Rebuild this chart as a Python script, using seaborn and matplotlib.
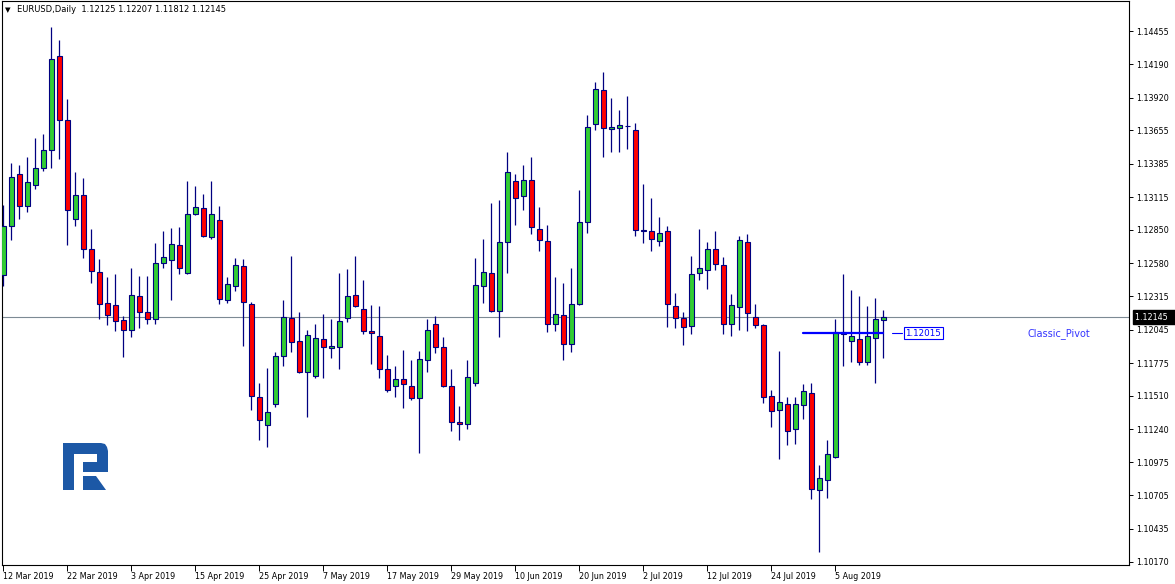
import numpy as np
import pandas as pd
import matplotlib
matplotlib.use("Agg")
import matplotlib.pyplot as plt
import matplotlib.transforms as mtrans
from matplotlib.patches import Polygon
import seaborn as sns

# ---------------- data ----------------
symbol_title = "EURUSD,Daily  1.12125 1.12207 1.11812 1.12145"
date_labels = ["12 Mar 2019", "22 Mar 2019", "3 Apr 2019", "15 Apr 2019", "25 Apr 2019",
               "7 May 2019", "17 May 2019", "29 May 2019", "10 Jun 2019", "20 Jun 2019",
               "2 Jul 2019", "12 Jul 2019", "24 Jul 2019", "5 Aug 2019"]
price_ticks = [1.14455, 1.14190, 1.13920, 1.13655, 1.13385, 1.13115, 1.12850, 1.12580,
               1.12315, 1.12045, 1.11775, 1.11510, 1.11240, 1.10975, 1.10705, 1.10435, 1.10170]

opens = [1.12485, 1.12880, 1.13302, 1.13047, 1.13214, 1.13351, 1.13500, 1.14253, 1.13737, 1.12935,
         1.13132, 1.12698, 1.12513, 1.12257, 1.12242, 1.12121, 1.12039, 1.12315, 1.12185, 1.12130,
         1.12586, 1.12607, 1.12725, 1.12500, 1.12977, 1.13026, 1.12795, 1.12929, 1.12285, 1.12397,
         1.12561, 1.12251, 1.11501, 1.11273, 1.11443, 1.11835, 1.12136, 1.11951, 1.11704, 1.11671,
         1.11966, 1.11893, 1.11902, 1.12136, 1.12324, 1.12209, 1.12030, 1.11990, 1.11729, 1.11592,
         1.11647, 1.11589, 1.11492, 1.11802, 1.12087, 1.11902, 1.11589, 1.11300, 1.11279, 1.11616,
         1.12397, 1.12504, 1.12194, 1.12750, 1.13242, 1.13123, 1.13254, 1.12856, 1.12759, 1.12087,
         1.12160, 1.11932, 1.12248, 1.12914, 1.13704, 1.13980, 1.13664, 1.13670, 1.13694, 1.13658,
         1.12853, 1.12841, 1.12759, 1.12838, 1.12233, 1.12139, 1.12072, 1.12504, 1.12528, 1.12698,
         1.12567, 1.12087, 1.12227, 1.12750, 1.12145, 1.12081, 1.11507, 1.11395, 1.11443, 1.11240,
         1.11437, 1.11534, 1.10745, 1.10833, 1.11012, 1.12024, 1.11951, 1.11966, 1.11786, 1.11975,
         1.12125]
highs = [1.13053, 1.13388, 1.13375, 1.13442, 1.13591, 1.13625, 1.14490, 1.14384, 1.13910, 1.13315,
         1.13266, 1.12856, 1.12613, 1.12470, 1.12494, 1.12157, 1.12546, 1.12476, 1.12476, 1.12744,
         1.12841, 1.12865, 1.12874, 1.13242, 1.13208, 1.13144, 1.13242, 1.13044, 1.12473, 1.12622,
         1.12613, 1.12267, 1.11616, 1.11732, 1.11862, 1.12288, 1.12643, 1.12188, 1.12042, 1.12090,
         1.12172, 1.12133, 1.12506, 1.12531, 1.12637, 1.12443, 1.12245, 1.12236, 1.11838, 1.11747,
         1.11878, 1.11796, 1.11872, 1.12127, 1.12151, 1.11984, 1.11723, 1.11431, 1.11796, 1.12625,
         1.12777, 1.13069, 1.13093, 1.13482, 1.13306, 1.13378, 1.13436, 1.13038, 1.12889, 1.12467,
         1.12425, 1.12540, 1.13172, 1.13776, 1.14047, 1.14123, 1.13919, 1.13819, 1.13934, 1.13713,
         1.13221, 1.13111, 1.12956, 1.12883, 1.12339, 1.12188, 1.12637, 1.12856, 1.12750, 1.12841,
         1.12628, 1.12336, 1.12798, 1.12816, 1.12254, 1.12093, 1.11553, 1.11872, 1.11504, 1.11504,
         1.11604, 1.11616, 1.10948, 1.11155, 1.12127, 1.12497, 1.12364, 1.12318, 1.12233, 1.12303,
         1.12207]
lows = [1.12400, 1.12768, 1.12941, 1.12996, 1.13184, 1.13330, 1.13348, 1.13421, 1.12728, 1.12886,
        1.12622, 1.12418, 1.12127, 1.12084, 1.12030, 1.11823, 1.11987, 1.12054, 1.12090, 1.12090,
        1.12540, 1.12288, 1.12491, 1.12495, 1.12970, 1.12795, 1.12777, 1.12254, 1.12263, 1.12355,
        1.11914, 1.11392, 1.11155, 1.11094, 1.11422, 1.11750, 1.11866, 1.11698, 1.11337, 1.11653,
        1.11653, 1.11817, 1.11726, 1.12109, 1.12224, 1.12008, 1.11771, 1.11656, 1.11544, 1.11498,
        1.11410, 1.11477, 1.11048, 1.11704, 1.11856, 1.11580, 1.11225, 1.11149, 1.11240, 1.11589,
        1.12257, 1.12190, 1.11987, 1.12506, 1.12892, 1.13008, 1.12819, 1.12680, 1.12024, 1.12033,
        1.11799, 1.11866, 1.12242, 1.12829, 1.13661, 1.13442, 1.13476, 1.13476, 1.13506, 1.12804,
        1.12747, 1.12680, 1.12722, 1.12069, 1.12060, 1.11923, 1.12008, 1.12446, 1.12373, 1.12525,
        1.12011, 1.11990, 1.12045, 1.12030, 1.12054, 1.11452, 1.11261, 1.11003, 1.11109, 1.11118,
        1.11319, 1.10678, 1.10252, 1.10687, 1.11010, 1.11753, 1.11786, 1.11762, 1.11756, 1.11613,
        1.11812]
closes = [1.12880, 1.13275, 1.13047, 1.13239, 1.13351, 1.13500, 1.14232, 1.13737, 1.13008, 1.13132,
          1.12698, 1.12522, 1.12251, 1.12160, 1.12112, 1.12039, 1.12324, 1.12191, 1.12130, 1.12586,
          1.12628, 1.12740, 1.12540, 1.12977, 1.13035, 1.12804, 1.12983, 1.12294, 1.12412, 1.12567,
          1.12267, 1.11510, 1.11313, 1.11376, 1.11835, 1.12145, 1.11944, 1.11704, 1.12005, 1.11975,
          1.11908, 1.11911, 1.12115, 1.12315, 1.12236, 1.12036, 1.12014, 1.11723, 1.11559, 1.11647,
          1.11607, 1.11492, 1.11811, 1.12042, 1.11902, 1.11589, 1.11297, 1.11282, 1.11662, 1.12406,
          1.12513, 1.12194, 1.12750, 1.13315, 1.13108, 1.13254, 1.12874, 1.12765, 1.12087, 1.12169,
          1.11932, 1.12251, 1.12914, 1.13685, 1.13992, 1.13670, 1.13682, 1.13697, 1.13688, 1.12847,
          1.12844, 1.12774, 1.12829, 1.12251, 1.12139, 1.12063, 1.12494, 1.12546, 1.12698, 1.12576,
          1.12087, 1.12242, 1.12765, 1.12178, 1.12081, 1.11501, 1.11386, 1.11458, 1.11225, 1.11443,
          1.11550, 1.10754, 1.10842, 1.11042, 1.12024, 1.12008, 1.11990, 1.11786, 1.11990, 1.12130,
          1.12145]

current_price = 1.12145
pivot_value = 1.12015
pivot_start, pivot_end = 100, 110
pivot_name = "Classic_Pivot"

# ---------------- styling ----------------
W, H = 1175, 584
NAVY = "#000080"
BULL = "#32CD32"
BEAR = "#FF0000"
FS = 5.8

sns.set_theme(style="white")
plt.rcParams['font.family'] = ['DejaVu Sans']

df = pd.DataFrame({"idx": np.arange(len(opens)), "open": opens, "high": highs,
                   "low": lows, "close": closes})
df["bull"] = df["close"] >= df["open"]
df["body_lo"] = df[["open", "close"]].min(axis=1)
df["body_h"] = (df["close"] - df["open"]).abs().clip(lower=0.00002)
colors = np.where(df["bull"], BULL, BEAR)

fig = plt.figure(figsize=(W / 100, H / 100), dpi=100)
fig.patch.set_facecolor("white")
ax = fig.add_axes([2 / W, (H - 565) / H, 1127 / W, 564 / H])
ax.set_facecolor("white")

# current price line
ax.axhline(current_price, color="#7d8a94", lw=0.8, zorder=1)

# wicks and bodies
ax.vlines(df["idx"], df["low"], df["high"], color=NAVY, lw=0.9, zorder=2)
ax.bar(df["idx"], df["body_h"], bottom=df["body_lo"], width=0.62, color=colors,
       edgecolor=NAVY, linewidth=0.8, zorder=3)

# pivot line
sns.lineplot(x=[pivot_start, pivot_end], y=[pivot_value, pivot_value], ax=ax,
             color="#0000FF", lw=1.6, zorder=4)
ax.plot([111.1, 112.3], [pivot_value, pivot_value], color="#0000FF", lw=0.8, clip_on=False)
ax.text(112.75, pivot_value, f"{pivot_value:.5f}", color="#0000FF", fontsize=6.3,
        ha="left", va="center",
        bbox=dict(boxstyle="square,pad=0.15", fc="white", ec="#0000FF", lw=0.8))
ax.text(128.0, pivot_value, pivot_name, color="#3535FF", fontsize=7.0, ha="left", va="center")

# axes
ax.set_xlim(-0.16, 140.7)
ax.set_ylim(1.10143, 1.14700)
ax.set_xticks(np.arange(0, 8 * len(date_labels), 8))
ax.set_xticklabels(date_labels, ha="left", fontsize=FS)
ax.yaxis.tick_right()
ax.set_yticks(price_ticks)
ax.set_yticklabels([f"{v:.5f}" for v in price_ticks], fontsize=FS)
ax.tick_params(axis="x", direction="out", length=4, width=0.7, pad=1.2, colors="black",
               bottom=True)
ax.tick_params(axis="y", direction="out", length=3, width=0.7, pad=2.5, colors="black",
               right=True, left=False)
for sp in ax.spines.values():
    sp.set_color("black")
    sp.set_linewidth(0.8)
ax.grid(False)

# current price label on the axis
trans = mtrans.blended_transform_factory(ax.transAxes, ax.transData)
ax.text(1.0 + 6 / 1127, current_price, f"{current_price:.5f}  ", transform=trans,
        color="white", fontsize=FS, ha="left", va="center", zorder=10,
        bbox=dict(boxstyle="square,pad=0.3", fc="black", ec="black"))

# title
fig.text(5 / W, 1 - 10 / H, "\u25BC", fontsize=5.2, color="black", va="center", ha="left")
fig.text(17 / W, 1 - 10 / H, symbol_title, fontsize=6.0, color="black", va="center", ha="left")

# logo overlay (pixel coordinates)
ov = fig.add_axes([0, 0, 1, 1], zorder=5)
ov.set_xlim(0, W)
ov.set_ylim(H, 0)
ov.axis("off")
ov.patch.set_alpha(0)
LOGO = "#1c58a6"
shapes = [
    [(63, 443), (74, 443), (74, 490), (63, 490)],
    [(74, 443), (101, 443), (105, 444), (107, 447), (108, 451), (97, 451), (97, 454), (74, 454)],
    [(97, 451), (108, 451), (108, 472), (97, 472)],
    [(83, 462), (97, 462), (97, 472), (83, 472)],
    [(83, 476), (96, 476), (106, 490), (83, 490)],
]
for pts in shapes:
    ov.add_patch(Polygon(pts, closed=True, fc=LOGO, ec="none"))

fig.savefig("out.png", dpi=100)
